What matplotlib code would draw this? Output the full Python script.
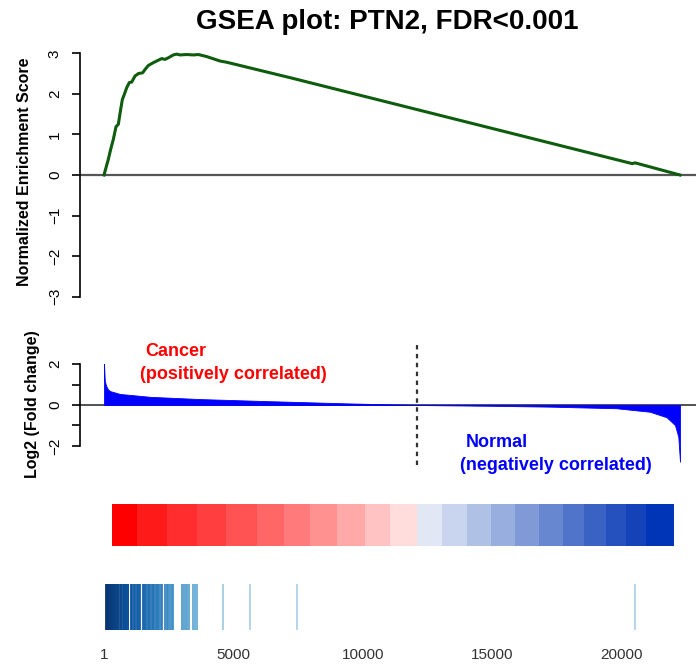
import matplotlib
matplotlib.use("Agg")
import matplotlib.pyplot as plt
from matplotlib import cm
import numpy as np

plt.rcParams['font.family'] = ['Liberation Sans', 'DejaVu Sans']

# ---------------- data ----------------
title = "GSEA plot: PTN2, FDR<0.001"

es_rank = [1, 168, 258, 361, 464, 554, 645, 709, 786, 876, 979, 1069, 1198, 1326,
           1494, 1584, 1713, 1906, 2099, 2228, 2356, 2485, 2678, 2807, 2935, 3193,
           3450, 3643, 3965, 4480, 4737, 5252, 5895, 7182, 20400, 20505, 22240]
es_score = [0.0, 0.39, 0.63, 0.88, 1.19, 1.25, 1.62, 1.86, 1.99, 2.15, 2.28, 2.29,
            2.44, 2.50, 2.52, 2.60, 2.70, 2.77, 2.83, 2.87, 2.85, 2.89, 2.96, 2.98,
            2.96, 2.97, 2.96, 2.97, 2.92, 2.81, 2.78, 2.70, 2.60, 2.40, 0.28, 0.30, 0.0]

fc_rank = [1, 30, 78, 150, 232, 618, 1777, 3707, 6283, 9371, 12070, 15000,
           17220, 19795, 21081, 21725, 22046, 22175, 22240]
fc_value = [2.0, 1.2, 0.95, 0.77, 0.68, 0.54, 0.40, 0.29, 0.19, 0.08, 0.0, -0.04,
            -0.08, -0.16, -0.33, -0.60, -0.98, -1.55, -2.77]

split_rank = 12070

hit_ranks = [66, 98, 137, 171, 212, 249, 288, 326, 365, 402, 441, 479, 521, 558,
             597, 640, 676, 718, 755, 797, 836, 877, 912, 939,
             1043, 1095, 1148, 1207, 1262, 1318, 1360, 1391,
             1495, 1538, 1592, 1641, 1688, 1742, 1789, 1843, 1887, 1941, 1992,
             2038, 2091, 2139, 2188, 2229,
             2356, 2424, 2479, 2548, 2612, 2677,
             3012, 3083, 3148, 3222, 3294,
             3449, 3521, 3603,
             4584, 5650, 7464, 20505]

bar_edges = [297, 1263, 2421, 3579, 4699, 5896, 6950, 7954, 8985, 10077, 11042,
             12073, 13039, 14004, 14931, 15869, 16807, 17710, 18533, 19382, 20154,
             20927, 22008]
bar_colors = ['#ff0000', '#ff1a1a', '#ff2d2d', '#ff3f3f', '#ff5252', '#ff6767',
              '#ff7b7b', '#ff9191', '#ffa9a9', '#ffc3c3', '#ffdddd',
              '#e1e7f4', '#c9d5ee', '#b0c1e6', '#98aedf', '#809ad8', '#6887d1',
              '#5074ca', '#3962c3', '#2451bd', '#1443b9', '#0035b8']

xtick_values = [1, 5000, 10000, 15000, 20000]
xtick_labels = ['1', '5000', '10000', '15000', '20000']
es_yticks = [-3, -2, -1, 0, 1, 2, 3]
fc_yticks = [-2, -1, 0, 1, 2]
fc_yticklabels = ['\u22122', '', '0', '', '2']

# ---------------- layout ----------------
W, H = 696, 670
fig = plt.figure(figsize=(W / 100, H / 100), dpi=100)
XL = (-926, 22858)


def ax_at(x0, y0, x1, y1):
    return fig.add_axes([x0 / W, 1 - y1 / H, (x1 - x0) / W, (y1 - y0) / H])


def r_style(ax):
    for s in ['top', 'right', 'bottom']:
        ax.spines[s].set_visible(False)
    ax.set_xlim(*XL)
    ax.set_xticks([])


# Top: enrichment score
ax1 = ax_at(80, 45.2, 696, 304.8)
r_style(ax1)
ax1.set_ylim(-3.2, 3.2)
ax1.axhline(0, color='#555555', lw=1.6, zorder=1)
ax1.plot(es_rank, es_score, color='#0e5c0e', lw=2.2, zorder=2)
ax1.spines['left'].set_bounds(-3, 3)
ax1.spines['left'].set_linewidth(1.2)
ax1.set_yticks(es_yticks)
ax1.set_yticklabels([str(v).replace('-', '\u2212') for v in es_yticks])
ax1.tick_params(axis='y', length=6, width=1.2, labelsize=11, pad=7,
                labelrotation=90)
for lab in ax1.get_yticklabels():
    lab.set_va('center')

# Middle: fold change
ax2 = ax_at(80, 345, 696, 465)
r_style(ax2)
ax2.set_ylim(-2.93, 2.93)
ax2.axhline(0, color='#333333', lw=1.2, zorder=1)
ax2.fill_between(fc_rank, fc_value, 0, color='#0000ff', lw=0.6, edgecolor='#0000ff', zorder=2)
ax2.axvline(split_rank, color='#333333', lw=1.6, ls=(0, (2, 2)), zorder=3)
ax2.spines['left'].set_bounds(-2, 2)
ax2.spines['left'].set_linewidth(1.2)
ax2.set_yticks(fc_yticks)
ax2.set_yticklabels(fc_yticklabels)
ax2.tick_params(axis='y', length=6, width=1.2, labelsize=11, pad=7,
                labelrotation=90)
for lab in ax2.get_yticklabels():
    lab.set_va('center')

# Colour bar of ranked list
ax3 = ax_at(80, 504, 696, 546)
ax3.set_xlim(*XL)
ax3.set_ylim(0, 1)
for i, c in enumerate(bar_colors):
    ax3.axvspan(bar_edges[i], bar_edges[i + 1], color=c, lw=0)
ax3.axis('off')

# Hit positions
ax4 = ax_at(80, 584, 696, 630)
ax4.set_xlim(*XL)
ax4.set_ylim(0, 1)
shade = [cm.Blues(float(np.clip(1.0 - r / 5200 * 0.72, 0.32, 1.0))) for r in hit_ranks]
ax4.vlines(hit_ranks, 0, 1, colors=shade, lw=1.3)
for s in ax4.spines.values():
    s.set_visible(False)
ax4.set_yticks([])
ax4.set_xticks(xtick_values)
ax4.set_xticklabels(xtick_labels)
ax4.tick_params(axis='x', length=0, labelsize=11, pad=13, labelcolor='#333333')

# Texts
fig.text(387.5 / W, 1 - 22 / H, title, ha='center', va='center',
         fontsize=20, fontweight='bold')
fig.text(25 / W, 1 - 171.5 / H, 'Normalized Enrichment Score', rotation=90,
         ha='center', va='center', fontsize=11.5, fontweight='bold')
fig.text(33 / W, 1 - 404 / H, 'Log2 (Fold change)', rotation=90,
         ha='center', va='center', fontsize=11.5, fontweight='bold')
fig.text(145 / W, 1 - 352 / H, 'Cancer', color='#ff0000', ha='left', va='center',
         fontsize=13, fontweight='bold')
fig.text(140 / W, 1 - 375 / H, '(positively correlated)', color='#ff0000', ha='left',
         va='center', fontsize=13, fontweight='bold')
fig.text(466 / W, 1 - 442.7 / H, 'Normal', color='#0000ff', ha='left', va='center',
         fontsize=13, fontweight='bold')
fig.text(460 / W, 1 - 465 / H, '(negatively correlated)', color='#0000ff', ha='left',
         va='center', fontsize=13, fontweight='bold')

fig.savefig('out.png', dpi=100)
